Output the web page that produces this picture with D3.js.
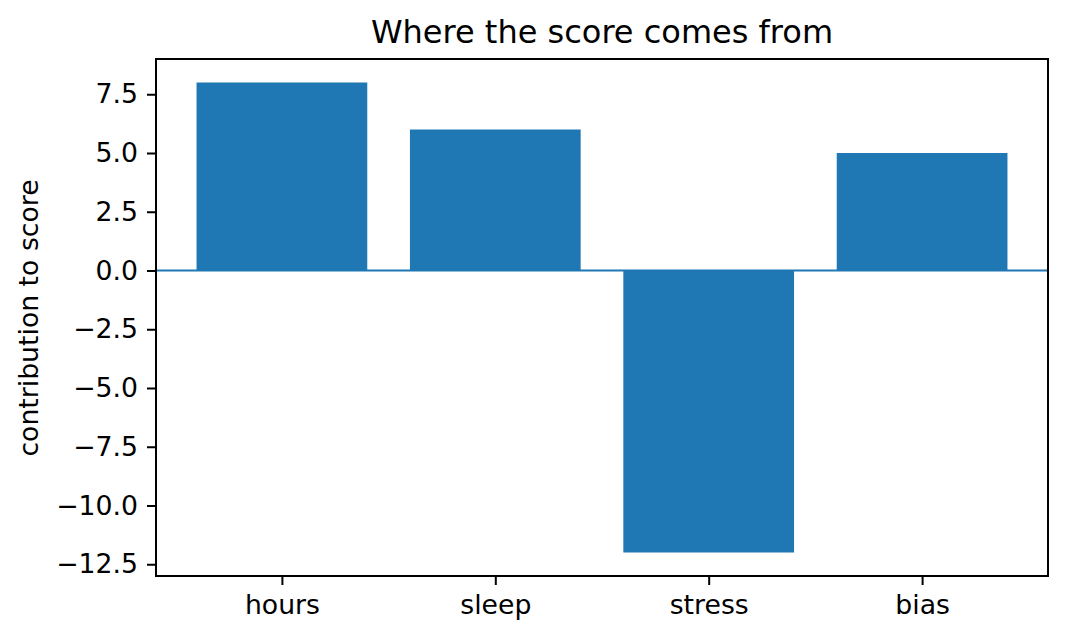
<!DOCTYPE html>
<html>
<head>
<meta charset="utf-8">
<script src="https://cdn.jsdelivr.net/npm/d3@7"></script>
<style>
  body { margin: 0; background: #fff; }
  text { font-family: "DejaVu Sans", sans-serif; fill: #000; }
</style>
</head>
<body>
<div id="chart"></div>
<script>
// data
var features = ["hours", "sleep", "stress", "bias"];
var contributions = [8, 6, -12, 5];
var yTicks = [7.5, 5.0, 2.5, 0.0, -2.5, -5.0, -7.5, -10.0, -12.5];

var W = 1068, H = 640;
var margin = {top: 59, right: 20, bottom: 64, left: 156},
    width = 1048 - margin.left,
    height = 576 - margin.top;

var svg = d3.select("#chart")
  .append("svg")
    .attr("width", W)
    .attr("height", H)
  .append("g")
    .attr("transform", "translate(" + margin.left + "," + margin.top + ")");

// x: matplotlib-style linear positions with 5% margins
var x = d3.scaleLinear()
  .domain([-0.59, 3.59])
  .range([0, width]);
var barW = x(0.8) - x(0);

var y = d3.scaleLinear()
  .domain([-13, 9])
  .range([height, 0]);

// bars
svg.append("g")
  .selectAll("rect")
  .data(contributions)
  .enter()
  .append("rect")
    .attr("x", (d, i) => x(i) - barW / 2)
    .attr("width", barW)
    .attr("y", d => y(Math.max(0, d)))
    .attr("height", d => Math.abs(y(d) - y(0)))
    .attr("fill", "#1f77b4");

// zero line
svg.append("line")
  .attr("x1", 0).attr("x2", width)
  .attr("y1", y(0)).attr("y2", y(0))
  .attr("stroke", "#1f77b4")
  .attr("stroke-width", 2);

// axes
var fmt = v => v.toFixed(1).replace("-", "\u2212");
var yAxis = svg.append("g")
  .call(d3.axisLeft(y).tickValues(yTicks).tickFormat(fmt).tickSize(9).tickPadding(9));
var xAxis = svg.append("g")
  .attr("transform", "translate(0," + height + ")")
  .call(d3.axisBottom(x).tickValues(d3.range(features.length)).tickFormat(i => features[i]).tickSize(9).tickPadding(10));

[yAxis, xAxis].forEach(a => {
  a.select(".domain").remove();
  a.selectAll("line").attr("stroke", "#000").attr("stroke-width", 2);
  a.selectAll("text").style("font-size", "26.7px").style("font-family", "DejaVu Sans");
});

// frame
svg.append("rect")
  .attr("x", 0).attr("y", 0)
  .attr("width", width).attr("height", height)
  .attr("fill", "none")
  .attr("stroke", "#000")
  .attr("stroke-width", 2);

// title and label
svg.append("text")
  .attr("x", width / 2)
  .attr("y", -16)
  .attr("text-anchor", "middle")
  .style("font-size", "32px")
  .text("Where the score comes from");

svg.append("text")
  .attr("transform", "rotate(-90)")
  .attr("x", -(318 - margin.top))
  .attr("y", -118)
  .attr("text-anchor", "middle")
  .style("font-size", "26.7px")
  .text("contribution to score");
</script>
</body>
</html>
